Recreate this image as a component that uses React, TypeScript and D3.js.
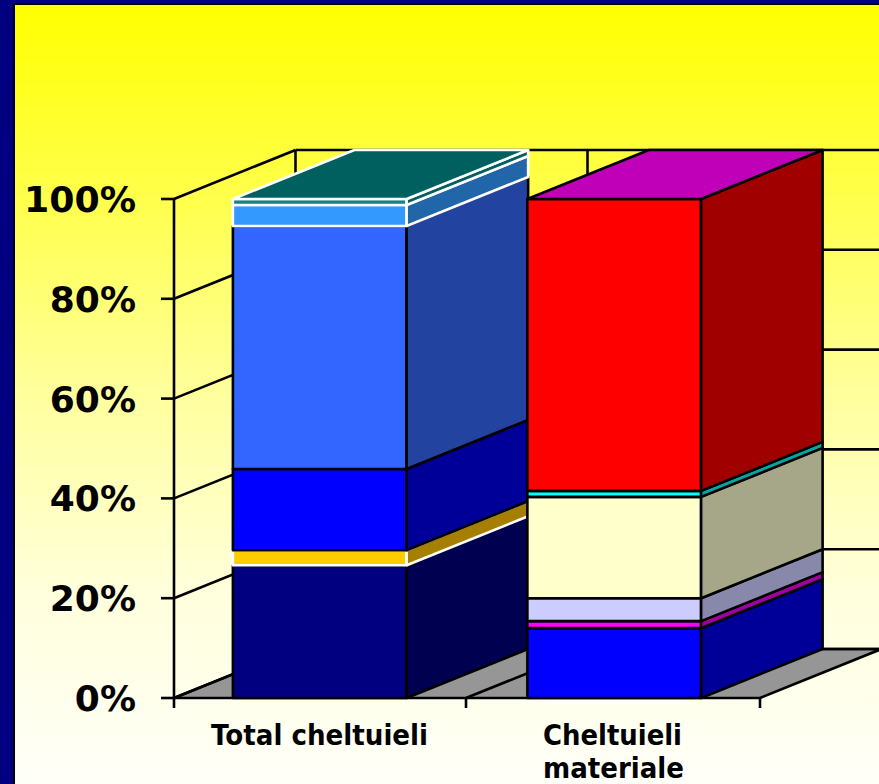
import React from "react";
import * as d3 from "d3";

const categories = ["Total cheltuieli", "Cheltuieli materiale"];
const tickValues = [0, 20, 40, 60, 80, 100];
// cumulative tops of each stacked segment, in percent
const totalTops = [26.6, 29.6, 45.9, 94.6, 98.8, 100];
const materialTops = [14, 15.4, 20, 40.3, 41.5, 100];
const totalFront = ["#000080", "#FFCC00", "#0000FF", "#3366FF", "#3399FF", "#1A8080"];
const totalSide = ["#000050", "#A67F00", "#000099", "#2244A0", "#2266AA", "#006060"];
const totalStroke = ["#000", "#fff", "#000", "#000", "#fff", "#fff"];
const totalRoof = "#006060";
const materialFront = ["#0000FF", "#FF00FF", "#CCCCFF", "#FFFFCC", "#00FFFF", "#FF0000"];
const materialSide = ["#000099", "#A000A0", "#8888AA", "#A6A688", "#00A6A6", "#A00000"];
const materialStroke = ["#000", "#000", "#000", "#000", "#000", "#000"];
const materialRoof = "#C000B8";

const W = 879, H = 784;
const DX = 121.5, DY = -49;
const y = d3.scaleLinear().domain([0, 100]).range([698, 199]);
const x = d3.scaleBand<string>().domain(categories).range([174, 760]).paddingInner(0.41).paddingOuter(0.2);
const pts = (p: number[][]) => p.map((q) => q.join(",")).join(" ");

function Bar({ cat, tops, front, side, stroke, roof }: { cat: string; tops: number[]; front: string[]; side: string[]; stroke: string[]; roof: string }) {
  const x0 = x(cat)!, x1 = x0 + x.bandwidth();
  const segs = tops.map((t, i) => ({ lo: i ? tops[i - 1] : 0, hi: t, i }));
  const topY = y(100);
  return (
    <g strokeWidth={2.6} strokeLinejoin="round">
      {segs.map(({ lo, hi, i }) => {
        const a = y(lo), b = y(hi);
        return (
          <g key={i} stroke={stroke[i]}>
            <rect x={x0} y={b} width={x1 - x0} height={a - b} fill={front[i]} />
            <polygon points={pts([[x1, a], [x1 + DX, a + DY], [x1 + DX, b + DY], [x1, b]])} fill={side[i]} />
          </g>
        );
      })}
      <polygon points={pts([[x0, topY], [x1, topY], [x1 + DX, topY + DY], [x0 + DX, topY + DY]])} fill={roof} stroke={stroke[5]} />
    </g>
  );
}

export default function App() {
  const edges = [174, 466, 760];
  const floorY = y(0);
  return (
    <svg width={W} height={H} style={{ position: "absolute", left: 0, top: 0 }}>
      <defs>
        <linearGradient id="bg" x1="0" y1="0" x2="0" y2="1">
          <stop offset="0" stopColor="#FFFF00" />
          <stop offset="0.25" stopColor="#FFFF4D" />
          <stop offset="0.5" stopColor="#FFFF9E" />
          <stop offset="0.75" stopColor="#FFFFDC" />
          <stop offset="1" stopColor="#FFFFFA" />
        </linearGradient>
      </defs>
      <rect width={W} height={H} fill="#000080" />
      <rect x={14} y={4} width={W} height={H} fill="url(#bg)" stroke="#000" strokeWidth={2} />

      <polygon
        points={pts([[edges[0], floorY], [edges[2], floorY], [edges[2] + DX, floorY + DY], [edges[0] + DX, floorY + DY]])}
        fill="#969696" stroke="#000" strokeWidth={2.6}
      />
      {tickValues.map((t) => (
        <g key={t} stroke="#000" strokeWidth={2.6}>
          <line x1={161} x2={edges[0]} y1={y(t)} y2={y(t)} />
          <line x1={edges[0]} x2={edges[0] + DX} y1={y(t)} y2={y(t) + DY} />
          <line x1={edges[0] + DX} x2={W} y1={y(t) + DY} y2={y(t) + DY} />
        </g>
      ))}
      <g stroke="#000" strokeWidth={2.6}>
        <line x1={edges[0]} x2={edges[0]} y1={y(100)} y2={floorY} />
        <line x1={edges[0] + DX} x2={edges[0] + DX} y1={y(100) + DY} y2={floorY + DY} />
        <line x1={edges[1] + DX} x2={edges[1] + DX} y1={y(100) + DY} y2={floorY + DY} />
        <line x1={edges[1]} x2={edges[1] + DX} y1={floorY} y2={floorY + DY} />
        {edges.map((e) => <line key={e} x1={e} x2={e} y1={floorY} y2={floorY + 10} />)}
      </g>

      <Bar cat={categories[0]} tops={totalTops} front={totalFront} side={totalSide} stroke={totalStroke} roof={totalRoof} />
      <Bar cat={categories[1]} tops={materialTops} front={materialFront} side={materialSide} stroke={materialStroke} roof={materialRoof} />

      <g fontFamily="DejaVu Sans" fontWeight={700} fill="#000">
        {tickValues.map((t) => (
          <text key={t} x={136} y={y(t) + 13} textAnchor="end" fontSize={36} textLength={t === 100 ? 112 : undefined} lengthAdjust="spacingAndGlyphs">{t}%</text>
        ))}
        <g fontSize={28}>
          <text x={211} y={745} textLength={217} lengthAdjust="spacingAndGlyphs">Total cheltuieli</text>
          <text x={543} y={745} textLength={139} lengthAdjust="spacingAndGlyphs">Cheltuieli</text>
          <text x={543} y={778} textLength={141} lengthAdjust="spacingAndGlyphs">materiale</text>
        </g>
      </g>
    </svg>
  );
}
